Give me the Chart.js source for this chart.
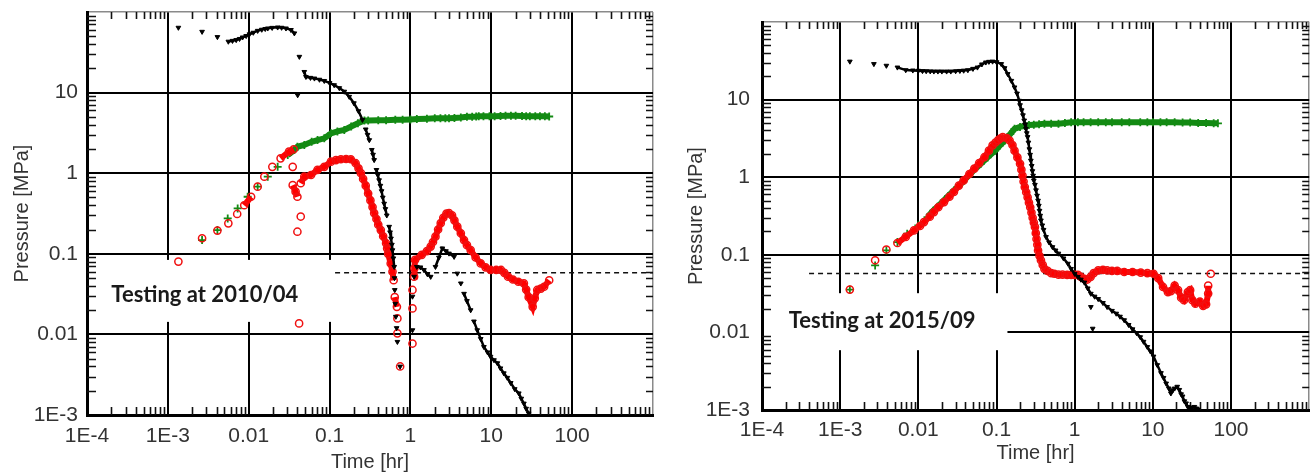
<!DOCTYPE html>
<html>
<head>
<meta charset="utf-8">
<script src="https://cdn.jsdelivr.net/npm/chart.js@4.4.1/dist/chart.umd.min.js"></script>
<style>
  html, body { margin: 0; padding: 0; background: #fff; }
  #wrap { position: relative; width: 1315px; height: 474px; overflow: hidden; }
  canvas { position: absolute; top: 0; }
  #left { left: 0; }
  #right { left: 660px; }
</style>
</head>
<body>
<div id="wrap">
  <canvas id="left" width="660" height="474"></canvas>
  <canvas id="right" width="655" height="474"></canvas>
</div>
<script>
// tick labels of the decades
const xTickLabels = ['1E-4', '1E-3', '0.01', '0.1', '1', '10', '100'];
const yTickLabels = ['1E-3', '0.01', '0.1', '1', '10'];
const xDecades = [1e-4, 1e-3, 0.01, 0.1, 1, 10, 100];
const yDecades = [1e-3, 0.01, 0.1, 1, 10];

// [time hr, pressure MPa]
const leftBlack = [
  [0.00135, 64], [0.00265, 57], [0.0041, 49], [0.0056, 43], [0.0063, 44], [0.0070, 45],
  [0.0077, 46.5], [0.0084, 48.5], [0.0093, 50.5], [0.0102, 53], [0.0114, 55.5], [0.0129, 58.6],
  [0.0145, 60.5], [0.0160, 61.8], [0.0172, 62.7], [0.0195, 63.8], [0.0228, 64.5], [0.0255, 64],
  [0.0289, 62.7], [0.0333, 60], [0.0367, 54.5], [0.0423, 27.9], [0.0487, 18.1], [0.051, 15.7],
  [0.058, 15.3], [0.065, 15], [0.075, 14.5], [0.086, 14], [0.1, 13.2], [0.114, 12.4],
  [0.132, 11.4], [0.152, 10.3], [0.175, 8.9], [0.2, 7.4], [0.228, 5.9], [0.255, 4.6],
  [0.28, 3.5], [0.295, 3.0], [0.31, 2.58], [0.333, 1.95], [0.345, 1.7], [0.356, 1.46],
  [0.38, 1.1], [0.395, 0.95], [0.41, 0.82], [0.425, 0.7], [0.44, 0.6], [0.455, 0.5],
  [0.473, 0.42], [0.49, 0.36], [0.51, 0.3], [0.546, 0.217], [0.56, 0.185], [0.575, 0.155],
  [0.59, 0.13], [0.6, 0.111], [0.615, 0.088], [0.63, 0.069], [0.635, 0.05], [0.64, 0.0356],
  [0.65, 0.024], [0.66, 0.0166], [0.675, 0.012], [0.69, 0.0081], [0.746, 0.004], [1.06, 0.0113],
  [1.06, 0.0295], [1.11, 0.052], [1.2, 0.069], [1.33, 0.068], [1.47, 0.063], [1.62, 0.056],
  [1.78, 0.052], [2.04, 0.069], [2.25, 0.09], [2.48, 0.117], [2.75, 0.108], [3.0, 0.101],
  [3.47, 0.092], [3.8, 0.057], [4.2, 0.043], [4.6, 0.032], [5.0, 0.026], [5.56, 0.020],
  [6.1, 0.0145], [6.7, 0.0113], [7.4, 0.0088], [8.1, 0.0070], [9.0, 0.006], [9.8, 0.0053],
  [10.8, 0.0048], [11.9, 0.0044], [13, 0.0038], [14.3, 0.0033], [15.8, 0.0029], [17.4, 0.0025],
  [19.5, 0.0021], [21.9, 0.00186], [23.5, 0.0016], [25.3, 0.00139], [27, 0.0012], [29, 0.00105],
  [0.0403, 9.3]
];
const leftGreen = [
  [0.00265, 0.148], [0.0041, 0.197], [0.0055, 0.275], [0.0073, 0.366], [0.0097, 0.51],
  [0.0129, 0.68], [0.0172, 0.906], [0.0228, 1.2], [0.0304, 1.68], [0.0367, 1.94], [0.040, 2.13],
  [0.0487, 2.24], [0.06, 2.45], [0.071, 2.58], [0.086, 2.71], [0.104, 3.12], [0.125, 3.3],
  [0.152, 3.44], [0.185, 3.8], [0.224, 4.16], [0.27, 4.5], [0.3, 4.5], [0.4, 4.55], [0.5, 4.55],
  [0.65, 4.6], [0.8, 4.6], [1.0, 4.65], [1.2, 4.7], [1.6, 4.75], [2.0, 4.8], [2.35, 4.8],
  [2.7, 4.8], [3.0, 4.82], [3.5, 4.85], [4.2, 4.9], [5.0, 5.0], [5.8, 5.02], [6.5, 5.05],
  [7, 5.08], [8, 5.1], [9.5, 5.1], [11, 5.1], [13, 5.12], [15, 5.15], [17.5, 5.15], [20, 5.15],
  [24, 5.12], [27, 5.1], [30, 5.1], [35, 5.1], [40, 5.1], [46, 5.08], [52, 5.05]
];
const leftRed = [
  [0.00135, 0.080], [0.00265, 0.156], [0.0041, 0.194], [0.0056, 0.239], [0.0072, 0.312],
  [0.0088, 0.40], [0.0107, 0.51], [0.0129, 0.68], [0.0156, 0.906], [0.0196, 1.2], [0.0248, 1.53],
  [0.0315, 1.85], [0.036, 1.98], [0.035, 1.2], [0.035, 0.71], [0.038, 0.59], [0.040, 0.51],
  [0.044, 0.29], [0.040, 0.188], [0.042, 0.0137], [0.044, 0.75], [0.0487, 0.906], [0.059, 0.95],
  [0.071, 1.1], [0.086, 1.2], [0.104, 1.39], [0.12, 1.45], [0.138, 1.49], [0.16, 1.5],
  [0.183, 1.49], [0.21, 1.33], [0.228, 1.15], [0.244, 1.0], [0.26, 0.85], [0.28, 0.7], [0.3, 0.56],
  [0.32, 0.46], [0.34, 0.38], [0.356, 0.32], [0.38, 0.27], [0.40, 0.23], [0.43, 0.197],
  [0.46, 0.165], [0.5, 0.135], [0.515, 0.117], [0.53, 0.1], [0.57, 0.076], [0.6, 0.06],
  [0.62, 0.047], [0.64, 0.029], [0.68, 0.022], [0.69, 0.0158], [0.69, 0.0103], [0.746, 0.004],
  [1.06, 0.0077], [1.06, 0.021], [1.06, 0.0356], [1.11, 0.052], [1.12, 0.066], [1.14, 0.084],
  [1.38, 0.097], [1.6, 0.108], [1.78, 0.123], [1.9, 0.14], [2.04, 0.163], [2.2, 0.2], [2.37, 0.24],
  [2.55, 0.28], [2.79, 0.316], [3.0, 0.32], [3.27, 0.30], [3.5, 0.26], [3.8, 0.217], [4.2, 0.18],
  [4.6, 0.148], [5.0, 0.128], [5.56, 0.111], [6.4, 0.09], [7.4, 0.076], [8.5, 0.068], [9.8, 0.063],
  [11.5, 0.063], [13.2, 0.063], [14.5, 0.058], [16.1, 0.052], [18.5, 0.048], [21.6, 0.045],
  [25.3, 0.043], [27, 0.036], [29, 0.029], [32.5, 0.022], [34.5, 0.028], [37, 0.0356],
  [41, 0.037], [45, 0.039], [52, 0.047]
];
const leftDashed = [[0.117, 0.058], [1000, 0.058]];

const rightBlack = [
  [0.00133, 31], [0.0027, 28.8], [0.0039, 27.4], [0.0054, 26], [0.0069, 24], [0.0085, 23.8],
  [0.01, 23.6], [0.0113, 23.4], [0.0126, 23.3], [0.0142, 23.2], [0.0158, 23.1], [0.0178, 23.1],
  [0.02, 23.1], [0.023, 23.1], [0.026, 23.1], [0.03, 23.3], [0.034, 23.5], [0.038, 23.7],
  [0.043, 24], [0.05, 25], [0.057, 26], [0.065, 28.5], [0.073, 30.2], [0.08, 30.8], [0.089, 31],
  [0.1, 30.5], [0.115, 28.8], [0.127, 25.5], [0.139, 21.4], [0.155, 17.5], [0.17, 14.4],
  [0.183, 12], [0.195, 9.7], [0.2, 8.5], [0.21, 7.3], [0.218, 6.3], [0.226, 5.4], [0.232, 4.8],
  [0.238, 4.2], [0.244, 3.7], [0.25, 3.3], [0.256, 2.8], [0.263, 2.3], [0.269, 1.95],
  [0.275, 1.64], [0.282, 1.4], [0.288, 1.2], [0.294, 1.05], [0.30, 0.91], [0.31, 0.8],
  [0.32, 0.68], [0.33, 0.58], [0.34, 0.5], [0.348, 0.43], [0.355, 0.37], [0.362, 0.32],
  [0.37, 0.278], [0.385, 0.24], [0.40, 0.21], [0.43, 0.17], [0.47, 0.145], [0.52, 0.126],
  [0.57, 0.114], [0.62, 0.104], [0.72, 0.09], [0.82, 0.077], [0.9, 0.066], [1.0, 0.057],
  [1.1, 0.052], [1.2, 0.048], [1.33, 0.044], [1.47, 0.037], [1.61, 0.0316], [1.8, 0.029],
  [2.0, 0.027], [2.3, 0.024], [2.6, 0.0213], [3.0, 0.019], [3.4, 0.0175], [3.8, 0.016],
  [4.3, 0.0144], [4.9, 0.0125], [5.5, 0.011], [6.2, 0.0098], [6.9, 0.0087], [7.6, 0.0076],
  [8.5, 0.0065], [9.3, 0.0057], [10.2, 0.0049], [11.4, 0.0038], [12.7, 0.003], [13.7, 0.0026],
  [14.8, 0.0022], [16, 0.0019], [17, 0.00164], [18, 0.0018], [19, 0.0019], [20.5, 0.002],
  [21.8, 0.00182], [23, 0.0016], [24, 0.0015], [25.3, 0.0013], [26.6, 0.00122], [28, 0.0011],
  [30, 0.00105], [32, 0.00108], [34, 0.0011], [36, 0.00105], [38, 0.00102], [1.61, 0.0213],
  [1.7, 0.0112]
];
const rightGreen = [
  [0.00133, 0.0356], [0.0028, 0.073], [0.0039, 0.114], [0.0054, 0.146], [0.0072, 0.187],
  [0.01, 0.24], [0.0131, 0.306], [0.0155, 0.37], [0.0193, 0.457], [0.024, 0.57], [0.0285, 0.676],
  [0.035, 0.82], [0.042, 1.0], [0.05, 1.2], [0.063, 1.49], [0.077, 1.8], [0.096, 2.2],
  [0.11, 2.55], [0.128, 2.97], [0.15, 3.6], [0.17, 4.2], [0.2, 4.45], [0.23, 4.6], [0.26, 4.7],
  [0.3, 4.75], [0.35, 4.8], [0.41, 4.9], [0.5, 4.9], [0.62, 4.9], [0.75, 5.0], [0.9, 5.1],
  [1.1, 5.1], [1.3, 5.1], [1.6, 5.1], [2.0, 5.1], [2.5, 5.1], [3.0, 5.1], [4.0, 5.1], [5.0, 5.1],
  [6.9, 5.1], [8.5, 5.1], [10, 5.1], [12.5, 5.1], [15, 5.1], [19, 5.1], [24, 5.05], [30, 5.05],
  [38, 5.0], [48, 5.0], [60, 4.95], [68, 4.95]
];
const rightRed = [
  [0.00133, 0.0356], [0.0028, 0.085], [0.0039, 0.117], [0.0054, 0.142], [0.0069, 0.17],
  [0.0088, 0.206], [0.0105, 0.235], [0.0118, 0.264], [0.014, 0.31], [0.0158, 0.355],
  [0.018, 0.41], [0.0213, 0.478], [0.025, 0.56], [0.0285, 0.645], [0.033, 0.78], [0.038, 0.91],
  [0.045, 1.1], [0.052, 1.29], [0.06, 1.52], [0.07, 1.81], [0.08, 2.2], [0.089, 2.57],
  [0.097, 2.8], [0.105, 3.0], [0.112, 3.15], [0.12, 3.28], [0.135, 3.2], [0.147, 2.97],
  [0.16, 2.6], [0.17, 2.2], [0.185, 1.8], [0.2, 1.49], [0.208, 1.25], [0.215, 1.05],
  [0.222, 0.88], [0.23, 0.745], [0.24, 0.64], [0.25, 0.55], [0.26, 0.47], [0.27, 0.41],
  [0.28, 0.35], [0.29, 0.3], [0.3, 0.26], [0.31, 0.229], [0.318, 0.19], [0.325, 0.16],
  [0.333, 0.135], [0.34, 0.114], [0.355, 0.097], [0.37, 0.085], [0.39, 0.074], [0.41, 0.066],
  [0.45, 0.062], [0.5, 0.058], [0.55, 0.057], [0.62, 0.0555], [0.7, 0.0555], [0.8, 0.055],
  [0.9, 0.055], [1.0, 0.055], [1.1, 0.055], [1.2, 0.052], [1.33, 0.049], [1.45, 0.048],
  [1.6, 0.052], [1.75, 0.058], [2.0, 0.063], [2.3, 0.064], [2.6, 0.063], [3, 0.062],
  [3.5, 0.062], [4.3, 0.060], [5.5, 0.06], [7, 0.059], [8.5, 0.058], [10.2, 0.057],
  [11.7, 0.05], [13.5, 0.0385], [15.6, 0.033], [17, 0.034], [19, 0.04], [21, 0.035],
  [23, 0.028], [25, 0.026], [28, 0.033], [30, 0.035], [32, 0.026], [35, 0.0234], [40, 0.025],
  [44, 0.022], [48, 0.023], [51, 0.0316], [51, 0.04], [55, 0.057]
];
const rightDashed = [[0.0004, 0.0575], [1000, 0.0575]];

const leftNote = 'Testing at 2010/04';
const rightNote = 'Testing at 2015/09';

const textColor = '#333';
const tickFont = { family: 'Liberation Sans, Arial, sans-serif', size: 21 };
const titleFont = { family: 'Liberation Sans, Arial, sans-serif', size: 20, lineHeight: 1.2 };

function logTicks(min, max) {
    const ticks = [];
    for (let e = Math.round(Math.log10(min)); e < Math.round(Math.log10(max)); e++) {
        for (let m = 1; m < 10; m++) {
            ticks.push({ value: Number((m * Math.pow(10, e)).toPrecision(6)), major: m === 1 });
        }
    }
    ticks.push({ value: max, major: true });
    return ticks;
}

// break the band where neighbouring points are far apart
function tooFar(c, limit) {
    return Math.hypot(c.p1.x - c.p0.x, c.p1.y - c.p0.y) > limit;
}

const toXY = arr => arr.map(([x, y]) => ({ x, y }));

const decor = {
    id: 'decor',
    beforeDatasetsDraw(chart, args, o) {
        const { ctx, chartArea: a, scales: { x, y } } = chart;
        ctx.save();
        // white box behind the note
        const bx0 = a.left + 2;
        const bx1 = x.getPixelForValue(o.box[1]);
        const by0 = y.getPixelForValue(o.box[3]);
        const by1 = y.getPixelForValue(o.box[2]);
        ctx.fillStyle = '#fff';
        ctx.fillRect(bx0, by0, bx1 - bx0, by1 - by0);

        // minor ticks, inside the frame on all four sides
        ctx.strokeStyle = '#111';
        ctx.lineWidth = 1.6;
        ctx.beginPath();
        x.ticks.forEach(t => {
            if (t.major) return;
            const px = Math.round(x.getPixelForValue(t.value)) + 0.5;
            ctx.moveTo(px, a.bottom); ctx.lineTo(px, a.bottom - 8);
            ctx.moveTo(px, a.top); ctx.lineTo(px, a.top + 7);
        });
        y.ticks.forEach(t => {
            if (t.major) return;
            const py = Math.round(y.getPixelForValue(t.value)) + 0.5;
            ctx.moveTo(a.left, py); ctx.lineTo(a.left + 9, py);
            ctx.moveTo(a.right, py); ctx.lineTo(a.right - 7, py);
        });
        ctx.stroke();

        ctx.fillStyle = '#1a1a1a';
        ctx.font = 'bold 22px Lato, "Open Sans", sans-serif';
        ctx.textBaseline = 'middle';
        ctx.fillText(o.text, x.getPixelForValue(o.at[0]), y.getPixelForValue(o.at[1]));
        ctx.restore();
    }
};

function gridColor(c, min, max) {
    const v = c.tick.value;
    if (v === min) return 'rgba(0,0,0,0)';
    if (v === max) return '#8a8a8a';
    return c.tick.major ? '#000' : 'rgba(0,0,0,0)';
}

function makeChart(id, opt) {
    return new Chart(document.getElementById(id), {
        type: 'scatter',
        data: {
            datasets: [
                {
                    data: toXY(opt.black),
                    showLine: true,
                    borderColor: '#000',
                    borderWidth: 2.5,
                    segment: { borderColor: c => tooFar(c, 10) ? 'rgba(0,0,0,0)' : undefined },
                    pointStyle: 'triangle',
                    pointRotation: 180,
                    pointRadius: 2.7,
                    pointBackgroundColor: '#000',
                    pointBorderColor: '#000',
                    pointBorderWidth: 1
                },
                {
                    data: toXY(opt.red),
                    showLine: true,
                    borderColor: '#ff0000',
                    borderWidth: 6,
                    segment: { borderColor: c => tooFar(c, 11) ? 'rgba(0,0,0,0)' : undefined },
                    pointStyle: 'circle',
                    pointRadius: 3.6,
                    pointBackgroundColor: 'rgba(0,0,0,0)',
                    pointBorderColor: '#f01010',
                    pointBorderWidth: 1.5
                },
                {
                    data: toXY(opt.green),
                    showLine: true,
                    borderColor: '#138a13',
                    borderWidth: 6,
                    segment: { borderColor: c => tooFar(c, 11) ? 'rgba(0,0,0,0)' : undefined },
                    pointStyle: 'cross',
                    pointRadius: 4,
                    pointBorderColor: '#138a13',
                    pointBorderWidth: 1.8
                },
                {
                    data: toXY(opt.dashed),
                    showLine: true,
                    borderColor: '#111',
                    borderWidth: 1.5,
                    borderDash: [5, 4],
                    pointRadius: 0
                }
            ]
        },
        options: {
            responsive: false,
            animation: false,
            events: [],
            layout: { padding: opt.padding },
            plugins: {
                legend: { display: false },
                tooltip: { enabled: false },
                decor: { box: opt.box, text: opt.note, at: opt.noteAt }
            },
            scales: {
                x: {
                    type: 'logarithmic',
                    min: 1e-4,
                    max: 1000,
                    afterBuildTicks: s => { s.ticks = logTicks(1e-4, 1000); },
                    afterFit: s => {
                        s.height = opt.xHeight;
                        s.paddingLeft = 0;
                        s.paddingRight = 0;
                    },
                    grid: {
                        drawTicks: false,
                        color: c => gridColor(c, 1e-4, 1000),
                        lineWidth: c => c.tick.value === 1000 ? 1.5 : 2
                    },
                    border: { display: true, color: '#000', width: 3 },
                    ticks: {
                        autoSkip: false,
                        maxRotation: 0,
                        minRotation: 0,
                        padding: opt.xTickPad,
                        color: textColor,
                        font: tickFont,
                        callback: v => xDecades.includes(v) ? xTickLabels[xDecades.indexOf(v)] : ''
                    },
                    title: {
                        display: true,
                        text: 'Time [hr]',
                        color: textColor,
                        font: titleFont,
                        padding: { top: 0, bottom: opt.xTitlePad }
                    }
                },
                y: {
                    type: 'logarithmic',
                    min: 1e-3,
                    max: 100,
                    afterBuildTicks: s => { s.ticks = logTicks(1e-3, 100); },
                    afterFit: s => {
                        s.width = opt.yWidth;
                        s.paddingTop = 0;
                        s.paddingBottom = 0;
                    },
                    grid: {
                        drawTicks: false,
                        color: c => gridColor(c, 1e-3, 100),
                        lineWidth: c => c.tick.value === 100 ? 1.5 : 2
                    },
                    border: { display: true, color: '#000', width: 3 },
                    ticks: {
                        autoSkip: false,
                        padding: opt.yTickPad,
                        color: textColor,
                        font: tickFont,
                        callback: v => yDecades.includes(v) ? yTickLabels[yDecades.indexOf(v)] : ''
                    },
                    title: {
                        display: true,
                        text: 'Pressure [MPa]',
                        color: textColor,
                        font: titleFont,
                        padding: { top: opt.yTitlePad, bottom: 0 }
                    }
                }
            }
        },
        plugins: [decor]
    });
}

makeChart('left', {
    black: leftBlack, red: leftRed, green: leftGreen, dashed: leftDashed,
    note: leftNote, noteAt: [0.0002, 0.031], box: [1e-4, 0.115, 0.0143, 0.084],
    padding: { left: 0, top: 12, right: 7, bottom: 0 },
    xHeight: 59, yWidth: 87, xTickPad: 9, yTickPad: 9, xTitlePad: 0, yTitlePad: 10
});

makeChart('right', {
    black: rightBlack, red: rightRed, green: rightGreen, dashed: rightDashed,
    note: rightNote, noteAt: [0.00022, 0.014], box: [1e-4, 0.138, 0.0059, 0.032],
    padding: { left: 0, top: 22, right: 4, bottom: 0 },
    xHeight: 64, yWidth: 102, xTickPad: 8, yTickPad: 12, xTitlePad: 9, yTitlePad: 24
});
</script>
</body>
</html>
